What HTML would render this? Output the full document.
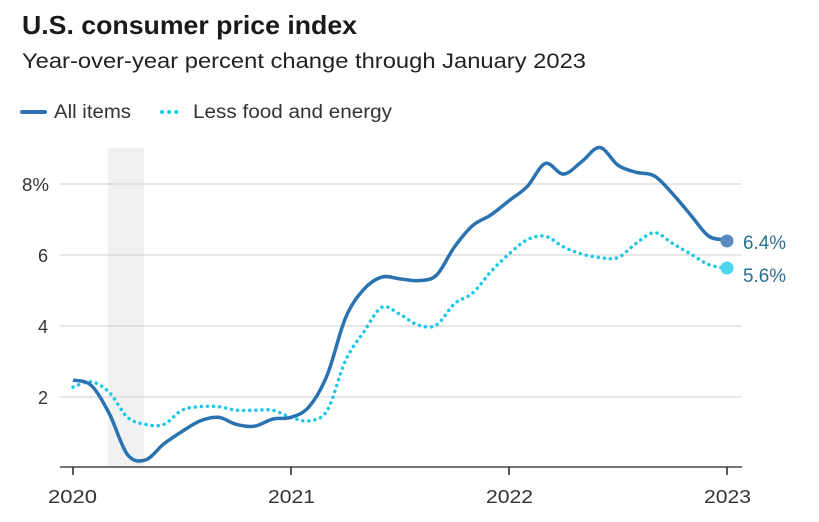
<!DOCTYPE html>
<html><head><style>
body{margin:0;background:#fff;width:819px;height:522px;overflow:hidden;font-family:"Liberation Sans",sans-serif;}
svg{position:absolute;left:0;top:0}
</style></head><body>
<svg width="819" height="522" xmlns="http://www.w3.org/2000/svg" font-family="Liberation Sans, sans-serif">
<text x="22" y="34" font-size="26" font-weight="bold" fill="#1a1a1a" textLength="335" lengthAdjust="spacingAndGlyphs">U.S. consumer price index</text>
<text x="22" y="68" font-size="21" fill="#222" textLength="564" lengthAdjust="spacingAndGlyphs">Year-over-year percent change through January 2023</text>
<line x1="22" y1="112" x2="45" y2="112" stroke="#2a73b0" stroke-width="4" stroke-linecap="round"/>
<text x="54" y="118" font-size="19" fill="#333" textLength="77" lengthAdjust="spacingAndGlyphs">All items</text>
<line x1="162" y1="112" x2="180" y2="112" stroke="#1ec8e6" stroke-width="4" stroke-dasharray="0.1 7" stroke-linecap="round"/>
<text x="193" y="118" font-size="19" fill="#333" textLength="199" lengthAdjust="spacingAndGlyphs">Less food and energy</text>
<rect x="108" y="148" width="36" height="319" fill="#f1f1f1"/>
<g stroke="#cfcfcf" stroke-width="1">
<line x1="60" y1="184" x2="742" y2="184"/><line x1="60" y1="255" x2="742" y2="255"/>
<line x1="60" y1="326" x2="742" y2="326"/><line x1="60" y1="397" x2="742" y2="397"/>
</g>
<line x1="60" y1="467" x2="742" y2="467" stroke="#222" stroke-width="1.2"/>
<g stroke="#222" stroke-width="1.5"><line x1="73" y1="467" x2="73" y2="475"/><line x1="291" y1="467" x2="291" y2="475"/><line x1="509" y1="467" x2="509" y2="475"/><line x1="727" y1="467" x2="727" y2="475"/></g>
<g font-size="18" fill="#333">
<text x="22" y="191" textLength="27" lengthAdjust="spacingAndGlyphs">8%</text><text x="38" y="262">6</text><text x="38" y="333">4</text><text x="38" y="404">2</text>
<text x="48" y="503" textLength="49" lengthAdjust="spacingAndGlyphs">2020</text><text x="268" y="503" textLength="47" lengthAdjust="spacingAndGlyphs">2021</text>
<text x="486" y="503" textLength="47" lengthAdjust="spacingAndGlyphs">2022</text><text x="704" y="503" textLength="47" lengthAdjust="spacingAndGlyphs">2023</text>
</g>
<path id="core" fill="none" stroke="#1ec8e6" stroke-width="3.5" stroke-dasharray="0.1 6" stroke-linecap="round"/>
<path id="all" fill="none" stroke="#2a73b0" stroke-width="3.5" stroke-linejoin="round"/>
<circle cx="727" cy="241" r="6.5" fill="#5a8cc0"/>
<circle cx="727" cy="268" r="6.5" fill="#4dd5ee"/>
<text x="743" y="249" font-size="19" fill="#2a6f8f" textLength="43" lengthAdjust="spacingAndGlyphs">6.4%</text>
<text x="743" y="282" font-size="19" fill="#2a6f8f" textLength="43" lengthAdjust="spacingAndGlyphs">5.6%</text>
</svg>
<script>
function P(d){var pts=d.map(function(v,i){return [73+i*218/12,467-v*35.5]});
var s="M"+pts[0][0]+","+pts[0][1];
for(var i=0;i<pts.length-1;i++){var p0=pts[Math.max(i-1,0)],p1=pts[i],p2=pts[i+1],p3=pts[Math.min(i+2,pts.length-1)];
s+=" C"+(p1[0]+(p2[0]-p0[0])/6)+","+(p1[1]+(p2[1]-p0[1])/6)+" "+(p2[0]-(p3[0]-p1[0])/6)+","+(p2[1]-(p3[1]-p1[1])/6)+" "+p2[0]+","+p2[1];}
return s;}
document.getElementById("all").setAttribute("d",P([2.45,2.3,1.5,0.35,0.2,0.65,1.0,1.3,1.4,1.2,1.15,1.35,1.4,1.7,2.6,4.2,5.0,5.35,5.3,5.25,5.4,6.2,6.8,7.1,7.5,7.9,8.55,8.25,8.6,9.0,8.5,8.3,8.2,7.7,7.1,6.5,6.4]));
document.getElementById("core").setAttribute("d",P([2.25,2.4,2.1,1.4,1.2,1.2,1.6,1.7,1.7,1.6,1.6,1.6,1.4,1.3,1.6,3.0,3.8,4.5,4.3,4.0,4.0,4.6,4.9,5.5,6.0,6.4,6.5,6.2,6.0,5.9,5.9,6.3,6.6,6.3,6.0,5.7,5.6]));
</script>
</body></html>
